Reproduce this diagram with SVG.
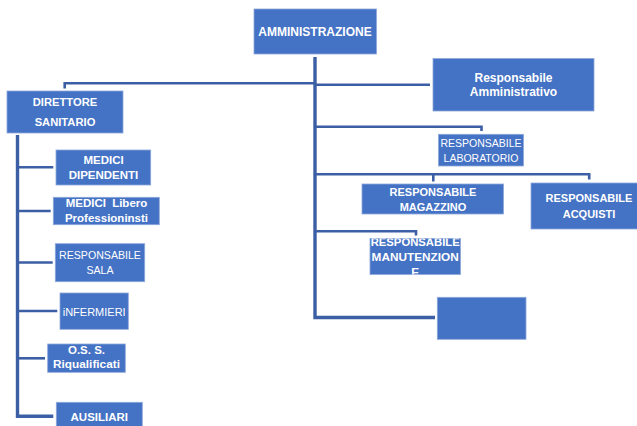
<svg xmlns="http://www.w3.org/2000/svg" width="637" height="426" viewBox="0 0 637 426">
<style>
.box{fill:#4472C4;stroke:#8EA8DA;stroke-width:0.8}
.t{font-family:"Liberation Sans",Arial,sans-serif;fill:#FFFFFF;text-anchor:middle}
.b{font-weight:bold}
.ln{fill:none;stroke:#3B5EA5;stroke-width:2.6;stroke-linejoin:miter}
.main{fill:none;stroke:#3B5EA5;stroke-width:3.4}
</style>
<defs>
<clipPath id="clipMan"><rect x="370" y="238.5" width="90.5" height="36"/></clipPath>
</defs>
<rect width="637" height="426" fill="#FFFFFF"/>
<g id="connectors">
<polyline class="main" points="315,57 315,317.5 435,317.5"/>
<polyline class="ln" points="315,83.3 64.7,83.3 64.7,88.5"/>
<polyline class="ln" points="315,84.7 430,84.7"/>
<polyline class="ln" points="315,126.7 481.5,126.7 481.5,131"/>
<polyline class="ln" points="315,174.3 589.2,174.3 589.2,179.5"/>
<polyline class="ln" points="433.3,174.3 433.3,181.5"/>
<polyline class="ln" points="315,231.2 416,231.2 416,235.5"/>
<polyline class="main" points="17.5,135 17.5,416.3 53.3,416.3"/>
<line class="ln" x1="17.5" y1="167.3" x2="53.3" y2="167.3"/>
<line class="ln" x1="17.5" y1="211" x2="50.7" y2="211"/>
<line class="ln" x1="17.5" y1="262.5" x2="52.7" y2="262.5"/>
<line class="ln" x1="17.5" y1="311" x2="57.3" y2="311"/>
<line class="ln" x1="17.5" y1="358.3" x2="45" y2="358.3"/>
</g>
<g id="amministrazione">
<rect class="box" x="254" y="9" width="122.5" height="45"/>
<text class="t b" x="315" y="36" font-size="12">AMMINISTRAZIONE</text>
</g>
<g id="direttore-sanitario">
<rect class="box" x="7" y="91" width="116" height="42"/>
<text class="t b" x="65" y="106" font-size="11.2">DIRETTORE</text>
<text class="t b" x="65" y="126" font-size="11.2">SANITARIO</text>
</g>
<g id="responsabile-amministrativo">
<rect class="box" x="433" y="58.5" width="161" height="52.5"/>
<text class="t b" x="513.5" y="81.5" font-size="12">Responsabile</text>
<text class="t b" x="513.5" y="96" font-size="12">Amministrativo</text>
</g>
<g id="responsabile-laboratorio">
<rect class="box" x="438.5" y="134.3" width="85" height="31.7"/>
<text class="t" x="481" y="147" font-size="10.5">RESPONSABILE</text>
<text class="t" x="481" y="162" font-size="10.5">LABORATORIO</text>
</g>
<g id="responsabile-magazzino">
<rect class="box" x="362" y="184" width="141.5" height="30"/>
<text class="t b" x="433" y="196" font-size="11">RESPONSABILE</text>
<text class="t b" x="433" y="211" font-size="11">MAGAZZINO</text>
</g>
<g id="responsabile-acquisti">
<rect class="box" x="531" y="183" width="108" height="46"/>
<text class="t b" x="589" y="202" font-size="11">RESPONSABILE</text>
<text class="t b" x="589" y="217.5" font-size="11">ACQUISTI</text>
</g>
<g id="responsabile-manutenzione">
<rect class="box" x="370" y="238.5" width="90.5" height="36"/>
<g clip-path="url(#clipMan)">
<text class="t b" x="415.2" y="245.5" font-size="11.3">RESPONSABILE</text>
<text class="t b" x="415.2" y="260.5" font-size="11.8">MANUTENZION</text>
<text class="t b" x="415.2" y="275.5" font-size="11.8">E</text>
</g>
</g>
<g id="box-vuoto">
<rect class="box" x="437.3" y="297.3" width="88.7" height="42"/>
</g>
<g id="medici-dipendenti">
<rect class="box" x="56" y="150" width="94.7" height="35"/>
<text class="t b" x="103.5" y="164.3" font-size="11.5">MEDICI</text>
<text class="t b" x="103.5" y="179" font-size="11.5">DIPENDENTI</text>
</g>
<g id="medici-libero-professionisti">
<rect class="box" x="53.3" y="197.3" width="106" height="27.4"/>
<text class="t b" x="106.5" y="207.2" font-size="11.5" word-spacing="3">MEDICI Libero</text>
<text class="t b" x="106.5" y="221.7" font-size="11.5">Professioninsti</text>
</g>
<g id="responsabile-sala">
<rect class="box" x="55.3" y="243.7" width="89.4" height="38"/>
<text class="t" x="100" y="259" font-size="10.6">RESPONSABILE</text>
<text class="t" x="100" y="274" font-size="10.6">SALA</text>
</g>
<g id="infermieri">
<rect class="box" x="60" y="293" width="68.3" height="36.3"/>
<text class="t" x="94.2" y="316" font-size="11">iNFERMIERI</text>
</g>
<g id="oss-riqualificati">
<rect class="box" x="47.7" y="344" width="77.6" height="28.3"/>
<text class="t b" x="86.5" y="354" font-size="11.5">O.S. S.</text>
<text class="t b" x="86.5" y="367.5" font-size="11.8">Riqualificati</text>
</g>
<g id="ausiliari">
<rect class="box" x="56.3" y="402.3" width="86" height="30"/>
<text class="t b" x="99.3" y="421" font-size="11.5">AUSILIARI</text>
</g>
</svg>
